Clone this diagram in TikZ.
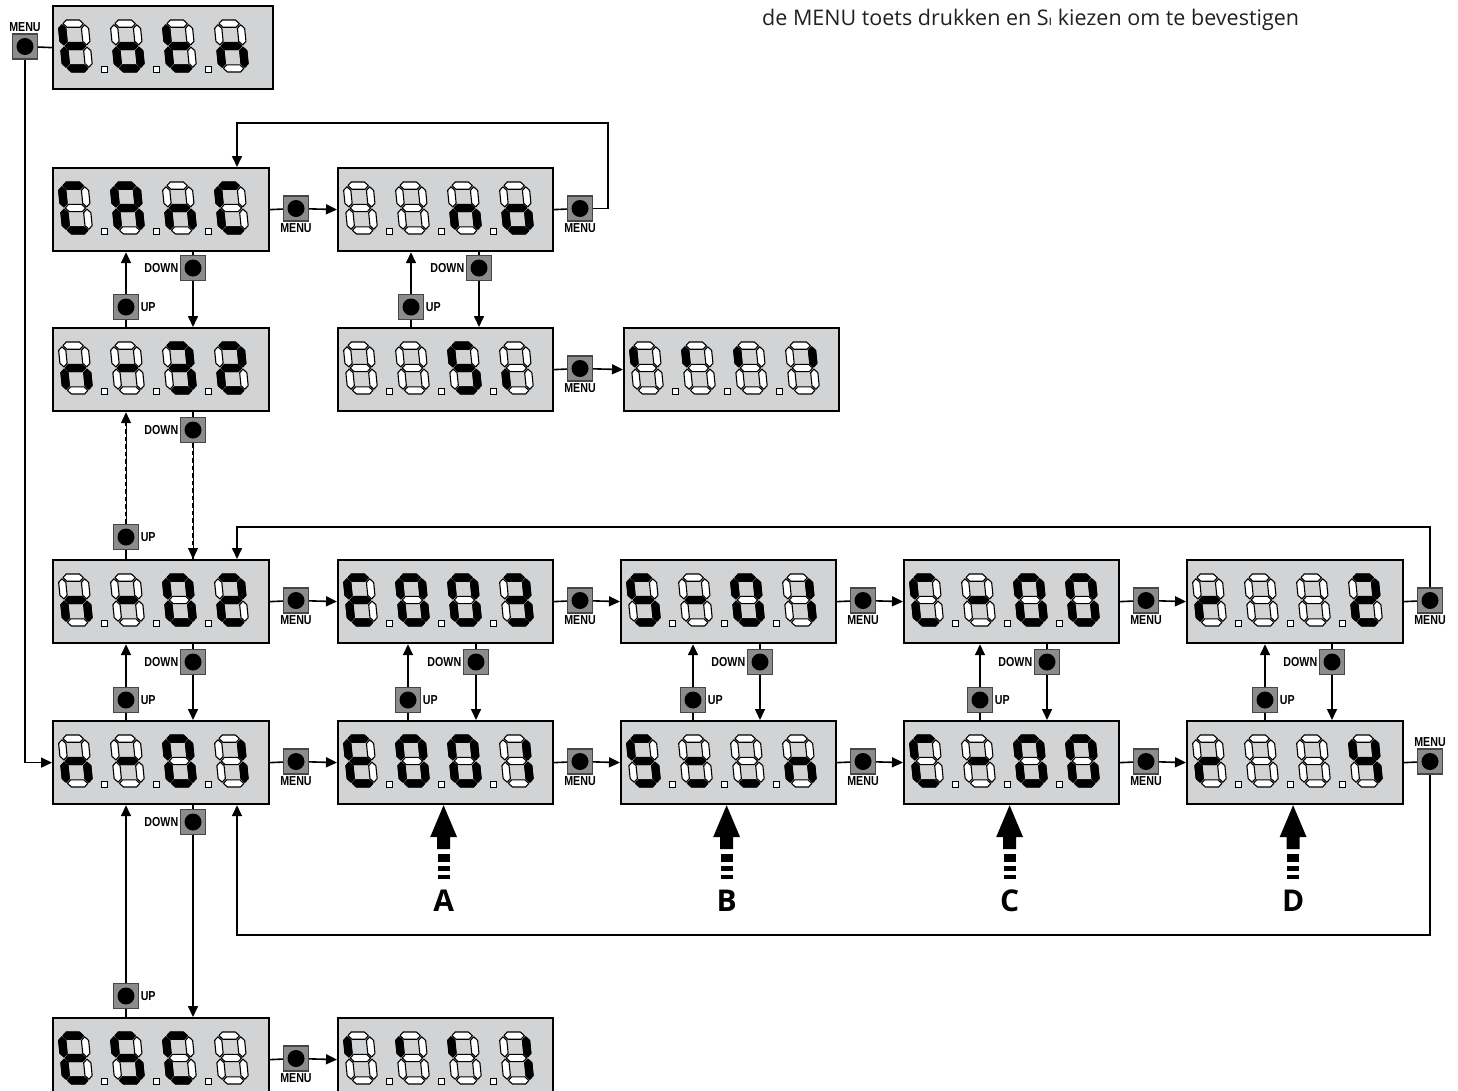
\documentclass[tikz,border=0pt]{standalone}
\usepackage{fontspec}
\setmainfont{Open Sans}
\newfontfamily\condfont[FakeStretch=0.82]{Liberation Sans}
\usetikzlibrary{arrows.meta,calc}
\definecolor{boxgray}{RGB}{209,211,212}
\definecolor{btngray}{RGB}{138,140,142}
\definecolor{btnedge}{RGB}{70,70,72}
\definecolor{txtgray}{RGB}{35,31,32}
\tikzset{
 box/.style={draw=black, fill=boxgray, line width=2.2pt, minimum height=83pt, inner sep=0pt, anchor=north west},
 btn/.style={draw=btnedge, fill=btngray, line width=1.2pt, minimum size=25pt, inner sep=0pt,
   path picture={\fill[black] (path picture bounding box.center) circle (8.5pt);}},
 lbl/.style={font=\condfont\bfseries\fontsize{13}{13}\selectfont, inner sep=1.5pt},
 conn/.style={line width=1.6pt, draw=black},
 arr/.style={conn, -{Triangle[length=11pt,width=10pt]}},
 dsh/.style={line width=1pt, postaction={draw, -, line width=2.8pt, dash pattern=on 4.5pt off 3pt}},
 seglit/.style={fill=black, draw=black, line width=0.8pt, line join=round},
 segoff/.style={fill=white, draw=black, line width=1.1pt, line join=round},
 dp/.style={fill=white, draw=black, line width=0.9pt},
 fat/.style={fill=black},
 letter/.style={font=\bfseries\fontsize{30}{30}\selectfont, inner sep=0pt}
}
\newcommand\SEGh[2]{\path[#2] (4.8,#1) -- (8.4,#1+3.6) -- (21.6,#1+3.6) -- (25.2,#1) -- (21.6,#1-3.6) -- (8.4,#1-3.6) -- cycle;}
\newcommand\SEGv[4]{\path[#4] (#1,#2) -- (#1+3.6,#2+3.6) -- (#1+3.6,#3-3.6) -- (#1,#3) -- (#1-3.6,#3-3.6) -- (#1-3.6,#2+3.6) -- cycle;}
\newcommand\SEGa[1]{\SEGh{48.4}{#1}}
\newcommand\SEGb[1]{\SEGv{26.4}{27.1}{47.2}{#1}}
\newcommand\SEGc[1]{\SEGv{26.4}{4.8}{24.9}{#1}}
\newcommand\SEGd[1]{\SEGh{3.6}{#1}}
\newcommand\SEGe[1]{\SEGv{3.6}{4.8}{24.9}{#1}}
\newcommand\SEGf[1]{\SEGv{3.6}{27.1}{47.2}{#1}}
\newcommand\SEGg[1]{\SEGh{26}{#1}}
\newcommand\SEGz[1]{}
\newcommand\sdigit[3]{%
 \begin{scope}[shift={(#1,#2)},yscale=-1,xslant=0.1]
  \foreach \s in {a,b,c,d,e,f,g}{\csname SEG\s\endcsname{segoff}}
  \foreach \s in {#3}{\csname SEG\s\endcsname{seglit}}
 \end{scope}}
\newcommand\disp[8]{%
 \node[box, minimum width=#4pt] (#1) at (#2,#3) {};
 \sdigit{#2+11}{#3+67}{#5}
 \sdigit{#2+63}{#3+67}{#6}
 \sdigit{#2+115}{#3+67}{#7}
 \sdigit{#2+167}{#3+67}{#8}
 \foreach \k in {49,101,153}{\path[dp] (#2+\k,#3+61) rectangle ++(6,6);}
}
\newcommand\fatarrow[2]{%
 \coordinate (#1tip) at ($(#1.south)+(-2,0)$);
 \fill[fat] (#1tip) -- ++(13.5,32) -- ++(-7,0) -- ++(0,12) -- ++(-13,0) -- ++(0,-12) -- ++(-7,0) -- cycle;
 \fill[fat] ($(#1tip)+(-6,49)$) rectangle ++(12,8);
 \fill[fat] ($(#1tip)+(-6,61)$) rectangle ++(12,5);
 \fill[fat] ($(#1tip)+(-6,70)$) rectangle ++(12,4);
 \node[letter] (#1let) at ($(#1tip)+(0,96)$) {#2};
}
\begin{document}
\begin{tikzpicture}[x=1pt,y=-1pt]
\useasboundingbox (0,0) rectangle (1458,1090);
% title
\node[anchor=base west, font=\fontsize{21.5}{21.5}\selectfont, text=txtgray, inner sep=0pt] (title) at (762,25)
 {de MENU toets drukken en S{\fontsize{14}{14}\selectfont ı} kiezen om te bevestigen};
% displays
\disp{D1}{52}{5}{220}{d,e,f,g}{c,d,e,g}{d,e,f,g}{c,e,g}
\disp{D2}{52}{167}{216}{a,d,e,f}{a,b,c,e,f,g}{c,e,g}{a,d,e,f}
\disp{D3}{337}{167}{215}{z}{z}{c,e,g}{c,d,e,g}
\disp{D4}{52}{327}{216}{c,e,g}{g}{a,b,c,d,g}{a,b,d,e,g}
\disp{D5}{337}{327}{215}{z}{z}{a,c,d,f,g}{e}
\disp{D6}{623}{327}{215}{f}{f}{f}{b}
\disp{D7}{52}{559}{216}{c,e,g}{g}{a,b,c,d,e,f}{a,b,d,e,g}
\disp{D8}{337}{559}{215}{a,d,e,f,g}{a,b,c,d,e,f}{a,b,c,d,e,f}{a,b,c,d,g}
\disp{D9}{620}{559}{215}{a,c,d,f,g}{g}{a,b,c,d,e,f}{b,c}
\disp{D10}{903}{559}{215}{a,d,e,f}{g}{a,b,c,d,e,f}{a,b,c,d,e,f}
\disp{D11}{1186}{559}{216}{e,g}{z}{z}{a,b,d,e,g}
\disp{D12}{52}{720}{216}{c,e,g}{g}{a,b,c,d,e,f}{b,c}
\disp{D13}{337}{720}{215}{a,d,e,f,g}{a,b,c,d,e,f}{a,b,c,d,e,f}{b,c}
\disp{D14}{620}{720}{215}{a,c,d,f,g}{d,g}{d}{c,e,g}
\disp{D15}{903}{720}{215}{a,d,e,f}{g}{a,b,c,d,e,f}{a,b,c,d,e,f}
\disp{D16}{1186}{720}{216}{e,g}{z}{z}{b,c,f,g}
\disp{D17}{52}{1017}{216}{a,d,e,f,g}{a,c,d,f,g}{a,d,e,f}{z}
\disp{D18}{337}{1017}{215}{f}{f}{f}{b,c}
% menu buttons
\node[btn, label={[lbl]above:MENU}] (btop) at (25,46.5) {};
\node[btn, label={[lbl]below:MENU}] (bm11) at (296,208.5) {};
\node[btn, label={[lbl]below:MENU}] (bm12) at (580,208.5) {};
\node[btn, label={[lbl]below:MENU}] (bm22) at (580,368.5) {};
\node[btn, label={[lbl]below:MENU}] (bm31) at (296,600.5) {};
\node[btn, label={[lbl]below:MENU}] (bm32) at (580,600.5) {};
\node[btn, label={[lbl]below:MENU}] (bm33) at (863,600.5) {};
\node[btn, label={[lbl]below:MENU}] (bm34) at (1146,600.5) {};
\node[btn, label={[lbl]below:MENU}] (bm35) at (1430,600.5) {};
\node[btn, label={[lbl]below:MENU}] (bm41) at (296,761.5) {};
\node[btn, label={[lbl]below:MENU}] (bm42) at (580,761.5) {};
\node[btn, label={[lbl]below:MENU}] (bm43) at (863,761.5) {};
\node[btn, label={[lbl]below:MENU}] (bm44) at (1146,761.5) {};
\node[btn, label={[lbl]above:MENU}] (bm45) at (1430,761.5) {};
\node[btn, label={[lbl]below:MENU}] (bm51) at (296,1058.5) {};
% up / down buttons
\node[btn, label={[lbl]left:DOWN}] (bdA) at (193,268) {};
\node[btn, label={[lbl]right:UP}] (buA) at (126,307) {};
\node[btn, label={[lbl]left:DOWN}] (bdB) at (479,268) {};
\node[btn, label={[lbl]right:UP}] (buB) at (411,307) {};
\node[btn, label={[lbl]left:DOWN}] (bdC) at (193,430) {};
\node[btn, label={[lbl]right:UP}] (buC) at (126,537) {};
\node[btn, label={[lbl]left:DOWN}] (bd1) at (193,662) {};
\node[btn, label={[lbl]right:UP}] (bu1) at (126,700) {};
\node[btn, label={[lbl]left:DOWN}] (bd2) at (476,662) {};
\node[btn, label={[lbl]right:UP}] (bu2) at (408,700) {};
\node[btn, label={[lbl]left:DOWN}] (bd3) at (760,662) {};
\node[btn, label={[lbl]right:UP}] (bu3) at (693,700) {};
\node[btn, label={[lbl]left:DOWN}] (bd4) at (1047,662) {};
\node[btn, label={[lbl]right:UP}] (bu4) at (980,700) {};
\node[btn, label={[lbl]left:DOWN}] (bd5) at (1332,662) {};
\node[btn, label={[lbl]right:UP}] (bu5) at (1265,700) {};
\node[btn, label={[lbl]left:DOWN}] (bdE) at (193,822) {};
\node[btn, label={[lbl]right:UP}] (buE) at (126,996) {};
% top menu connections
\draw[conn] (btop) -- (D1.west);
\draw[arr] (btop) |- (D12.west);
% horizontal menu chains
\draw[conn] (D2.east) -- (bm11); \draw[arr] (bm11) -- (D3.west);
\draw[conn] (D3.east) -- (bm12);
\coordinate (L1a) at (608,123); \coordinate (L1b) at (237,123);
\draw[arr] (bm12) -| (L1a) -- (L1b) -- (L1b |- D2.north);
\draw[conn] (D5.east) -- (bm22); \draw[arr] (bm22) -- (D6.west);
\draw[conn] (D7.east) -- (bm31); \draw[arr] (bm31) -- (D8.west);
\draw[conn] (D8.east) -- (bm32); \draw[arr] (bm32) -- (D9.west);
\draw[conn] (D9.east) -- (bm33); \draw[arr] (bm33) -- (D10.west);
\draw[conn] (D10.east) -- (bm34); \draw[arr] (bm34) -- (D11.west);
\draw[conn] (D11.east) -- (bm35);
\coordinate (L3a) at (1430,527); \coordinate (L3b) at (237,527);
\draw[arr] (bm35) -- (L3a) -- (L3b) -- (L3b |- D7.north);
\draw[conn] (D12.east) -- (bm41); \draw[arr] (bm41) -- (D13.west);
\draw[conn] (D13.east) -- (bm42); \draw[arr] (bm42) -- (D14.west);
\draw[conn] (D14.east) -- (bm43); \draw[arr] (bm43) -- (D15.west);
\draw[conn] (D15.east) -- (bm44); \draw[arr] (bm44) -- (D16.west);
\draw[conn] (D16.east) -- (bm45);
\coordinate (L4a) at (1430,935); \coordinate (L4b) at (237,935);
\draw[arr] (bm45) -- (L4a) -- (L4b) -- (L4b |- D12.south);
\draw[conn] (D17.east) -- (bm51); \draw[arr] (bm51) -- (D18.west);
% vertical up/down
\draw[conn] (D2.south -| bdA) -- (bdA); \draw[arr] (bdA) -- (bdA |- D4.north);
\draw[conn] (D4.north -| buA) -- (buA); \draw[arr] (buA) -- (buA |- D2.south);
\draw[conn] (D3.south -| bdB) -- (bdB); \draw[arr] (bdB) -- (bdB |- D5.north);
\draw[conn] (D5.north -| buB) -- (buB); \draw[arr] (buB) -- (buB |- D3.south);
\draw[conn] (D4.south -| bdC) -- (bdC); \draw[arr,dsh] (bdC) -- (bdC |- D7.north);
\draw[conn] (D7.north -| buC) -- (buC); \draw[arr,dsh] (buC) -- (buC |- D4.south);
\foreach \i/\up/\dn in {1/D7/D12,2/D8/D13,3/D9/D14,4/D10/D15,5/D11/D16}{
 \draw[conn] (\up.south -| bd\i) -- (bd\i); \draw[arr] (bd\i) -- (bd\i |- \dn.north);
 \draw[conn] (\dn.north -| bu\i) -- (bu\i); \draw[arr] (bu\i) -- (bu\i |- \up.south);
}
\draw[conn] (D12.south -| bdE) -- (bdE); \draw[arr] (bdE) -- (bdE |- D17.north);
\draw[conn] (D17.north -| buE) -- (buE); \draw[arr] (buE) -- (buE |- D12.south);
% fat arrows
\fatarrow{D13}{A}
\fatarrow{D14}{B}
\fatarrow{D15}{C}
\fatarrow{D16}{D}
\end{tikzpicture}
\end{document}
